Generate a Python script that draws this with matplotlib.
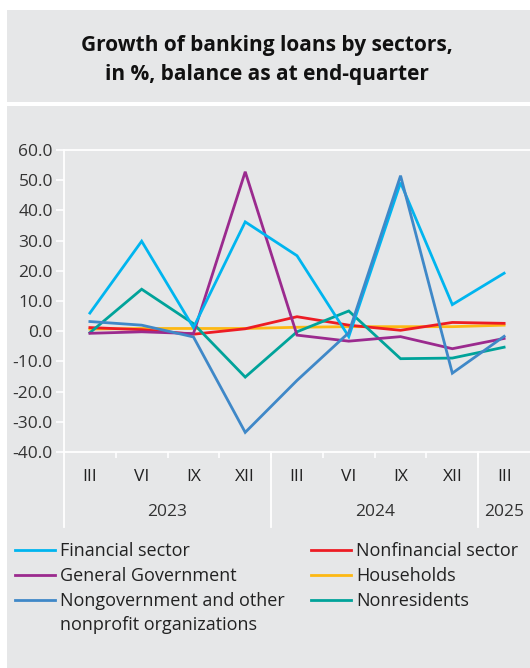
import matplotlib.pyplot as plt
from matplotlib.lines import Line2D
from matplotlib.patches import Rectangle
import matplotlib.transforms as mtransforms

plt.rcParams['font.family'] = ['Open Sans', 'DejaVu Sans']

quarters = ['III', 'VI', 'IX', 'XII', 'III', 'VI', 'IX', 'XII', 'III']
years = ['2023', '2024', '2025']
year_centers = [1.5, 5.5, 8.0]
year_breaks = [-0.5, 3.5, 7.5]

financial = [6.0, 29.8, 1.2, 36.2, 25.0, -1.8, 49.2, 8.8, 19.2]
nonfinancial = [1.2, 0.5, -1.0, 0.8, 4.8, 2.0, 0.3, 2.9, 2.6]
general_gov = [-0.7, -0.2, -0.8, 52.8, -1.3, -3.3, -1.8, -5.8, -2.4]
households = [0.7, 0.9, 0.9, 0.9, 1.3, 1.5, 1.5, 1.5, 2.0]
nongov = [3.2, 2.0, -1.9, -33.5, -16.3, -0.5, 51.5, -13.9, -1.7]
nonresidents = [-0.5, 13.9, 2.5, -15.2, -0.2, 6.7, -9.1, -8.9, -5.3]

series = [
    ('Financial sector', financial, '#00b5ef'),
    ('General Government', general_gov, '#9b2a8e'),
    ('Nongovernment and other\nnonprofit organizations', nongov, '#3f88c8'),
    ('Nonfinancial sector', nonfinancial, '#ed1c24'),
    ('Households', households, '#fdb813'),
    ('Nonresidents', nonresidents, '#00a39a'),
]
draw_order = [4, 3, 5, 1, 0, 2]

W, H = 530, 668
fig = plt.figure(figsize=(W / 100, H / 100), dpi=100)
fig.patch.set_facecolor('white')
panel = '#e6e7e8'
fig.add_artist(Rectangle((7 / W, 1 - 102 / H), 1, 92 / H, transform=fig.transFigure,
                         facecolor=panel, edgecolor='none', zorder=-5))
fig.add_artist(Rectangle((7 / W, 0), 1, 1 - 106 / H, transform=fig.transFigure,
                         facecolor=panel, edgecolor='none', zorder=-5))

fig.text(267 / W, 1 - 60 / H, 'Growth of banking loans by sectors,\nin %, balance as at end-quarter',
         ha='center', va='center', fontsize=15, fontweight='bold', color='#111111',
         linespacing=1.45)

ax = fig.add_axes([64 / W, 1 - 452 / H, (W - 64) / W, 302 / H])
ax.set_facecolor('none')
x = list(range(len(quarters)))
for i in draw_order:
    name, vals, col = series[i]
    ax.plot(x, vals, color=col, lw=2.0, solid_joinstyle='miter', zorder=3)

ax.set_xlim(-0.5, 8.5)
ax.set_ylim(-40, 60)
ax.set_yticks(range(-40, 61, 10))
ax.set_yticklabels([f'{v:.1f}' for v in range(-40, 61, 10)])
ax.tick_params(axis='y', colors='white', length=6, width=1.2, labelcolor='#333333',
               labelsize=12.5, pad=2)
ax.set_xticks([i + 0.5 for i in range(8)])
ax.set_xticklabels([])
ax.tick_params(axis='x', colors='white', length=4.5, width=1.2)

for s in ['top', 'bottom', 'left']:
    ax.spines[s].set_color('white')
    ax.spines[s].set_linewidth(1.3)
ax.spines['right'].set_visible(False)

trans = mtransforms.blended_transform_factory(ax.transData, ax.transAxes)
for b in year_breaks:
    ax.add_line(Line2D([b, b], [0, -75 / 302], transform=trans, color='white',
                       lw=1.3, clip_on=False))
for i, q in enumerate(quarters):
    ax.text(i, -25 / 302, q, transform=trans, ha='center', va='center',
            fontsize=12.5, color='#222222')
for c, yr in zip(year_centers, years):
    ax.text(c, -60 / 302, yr, transform=trans, ha='center', va='center',
            fontsize=12.5, color='#333333')

# legend
rows = [550, 575, 600]
cols = [(15, 55, 60), (311, 351, 356)]
for k, (name, vals, col) in enumerate(series):
    c = cols[k // 3]
    y = rows[k % 3]
    fig.add_artist(Line2D([c[0] / W, c[1] / W], [1 - y / H, 1 - y / H],
                          transform=fig.transFigure, color=col, lw=2.0))
    fig.text(c[2] / W, 1 - (y - 8) / H, name, ha='left', va='top', fontsize=13,
             color='#222222', linespacing=1.42)

fig.savefig('out.png', dpi=100)
